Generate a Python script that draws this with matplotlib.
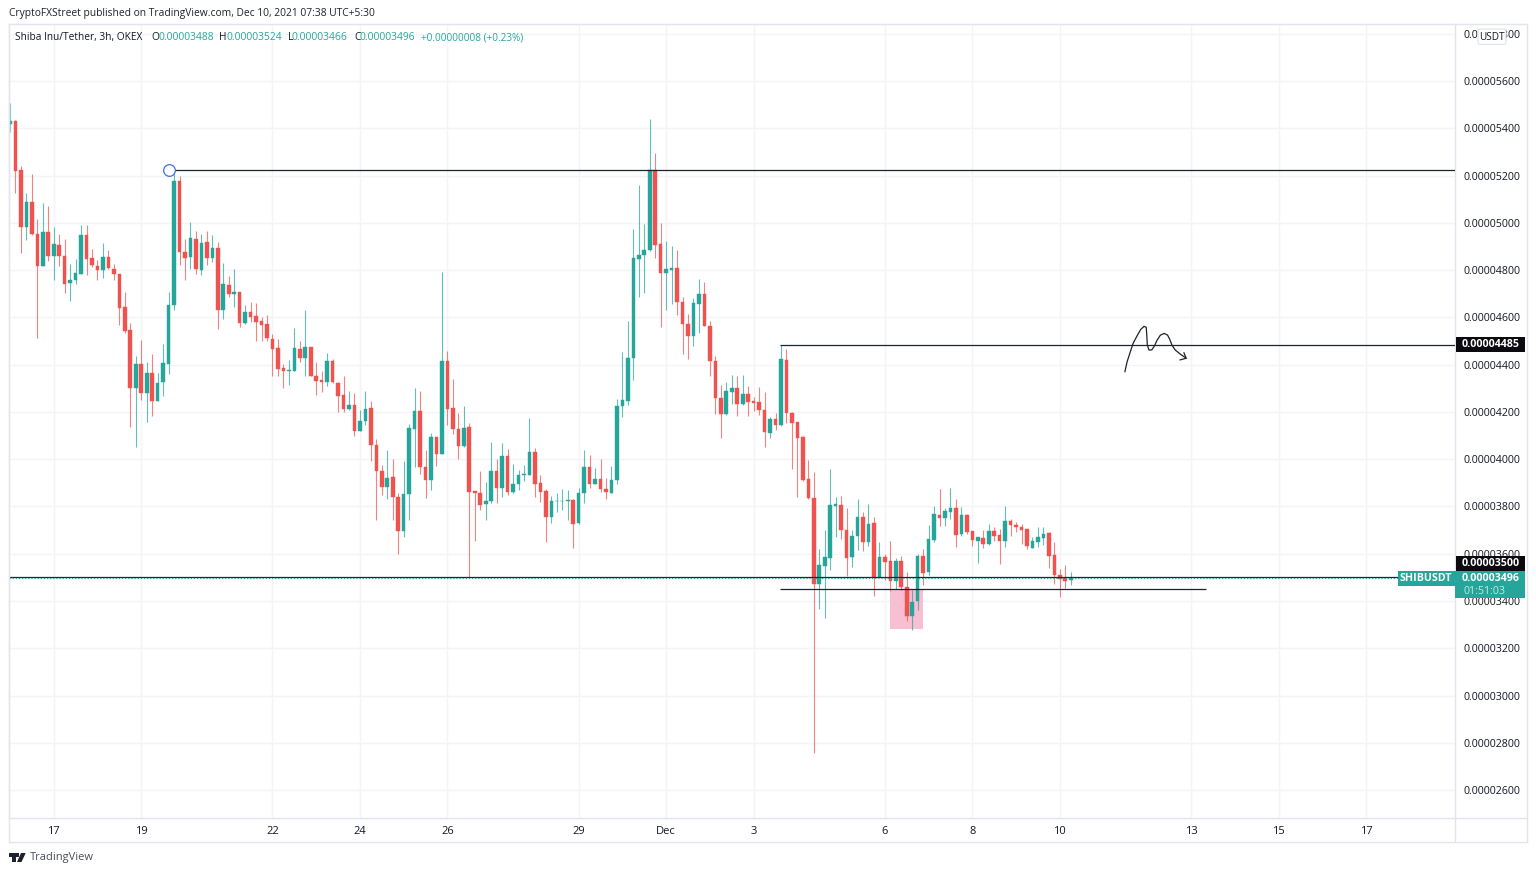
import matplotlib
matplotlib.use("Agg")
import matplotlib.pyplot as plt
from matplotlib.patches import Rectangle, Polygon, FancyBboxPatch
from matplotlib.lines import Line2D

# Prices in units of 1e-8 USDT
opens = [5416,5430,5224,4982,5090,4954,4819,4962,4858,4907,
4859,4744,4758,4785,4947,4850,4819,4799,4857,4806,
4783,4643,4548,4300,4402,4278,4365,4246,4327,4403,
4651,5178,4876,4855,4933,4802,4919,4852,4893,4629,
4738,4700,4707,4574,4624,4604,4584,4570,4510,4470,
4387,4372,4375,4466,4429,4473,4353,4334,4328,4414,
4324,4270,4211,4230,4121,4163,4215,4059,3949,3883,
3923,3841,3695,3854,4128,4203,3966,3914,4093,4024,
4414,4217,4127,4054,4138,3864,3858,3810,3825,3952,
3880,4015,3862,3893,3932,3934,4030,3899,3866,3756,
3821,3821,3824,3828,3730,3858,3966,3897,3916,3875,
3859,3910,4224,4248,4427,4848,4862,4884,5222,4910,
4787,4801,4810,4666,4572,4522,4658,4700,4565,4415,
4260,4192,4286,4301,4232,4275,4245,4241,4207,4110,
4170,4144,4420,4197,4156,4093,3918,3835,3473,3549,
3583,3804,3808,3701,3586,3677,3756,3648,3728,3502,
3587,3568,3483,3568,3461,3335,3399,3592,3521,3658,
3762,3751,3777,3793,3683,3762,3696,3654,3665,3641,
3696,3679,3654,3737,3722,3715,3703,3625,3649,3666,
3686,3593,3511,3497,3488]
highs = [5508,5435,5241,5128,5207,5016,5083,5071,4983,4954,
4933,4827,4847,4992,4992,4890,4843,4914,4886,4827,
4785,4707,4576,4438,4506,4409,4445,4365,4489,4707,
5223,5200,4933,5004,4966,4954,4966,4950,4919,4830,
4773,4804,4709,4652,4665,4659,4601,4610,4529,4507,
4403,4420,4555,4500,4631,4475,4411,4373,4451,4424,
4327,4351,4287,4279,4208,4287,4244,4086,3976,4039,
4000,3856,3993,4149,4301,4289,4039,4110,4095,4791,
4458,4338,4194,4227,4152,3866,3952,3903,4073,4000,
4069,4042,3980,3955,3976,4173,4046,3934,3873,3845,
3856,3873,3868,3830,3877,4039,4018,3962,4000,3920,
3970,4253,4453,4584,4973,5160,4994,5438,5294,5000,
4925,4903,4886,4686,4615,4681,4763,4749,4586,4435,
4315,4325,4355,4352,4358,4308,4263,4306,4286,4177,
4194,4485,4466,4199,4158,4099,3996,3945,3620,3701,
3959,3839,3846,3792,3699,3832,3776,3810,3756,3649,
3600,3652,3582,3589,3524,3448,3600,3621,3723,3804,
3873,3794,3876,3830,3796,3769,3698,3671,3699,3727,
3713,3706,3800,3745,3734,3727,3705,3670,3715,3713,
3691,3648,3535,3551,3524]
lows = [5386,5126,4872,4928,4949,4513,4817,4840,4759,4819,
4703,4668,4740,4783,4778,4811,4757,4768,4805,4759,
4567,4533,4136,4053,4250,4157,4182,4244,4267,4362,
4633,4820,4759,4806,4785,4778,4820,4833,4552,4593,
4685,4645,4560,4572,4582,4501,4501,4501,4352,4352,
4301,4314,4373,4411,4352,4350,4272,4284,4311,4321,
4201,4201,4208,4100,4118,4146,3994,3744,3849,3831,
3741,3600,3669,3744,3965,3937,3837,3870,3973,4022,
4144,4107,4000,4052,3501,3652,3783,3744,3813,3813,
3842,3849,3859,3868,3907,3932,3839,3817,3649,3732,
3775,3786,3744,3623,3727,3813,3876,3896,3863,3832,
3858,3893,4179,4230,4337,4684,4701,4882,4853,4558,
4629,4658,4610,4446,4422,4480,4534,4562,4352,4193,
4089,4186,4235,4182,4229,4182,4203,4186,4051,4091,
4124,4142,4155,3959,3842,3906,3832,2757,3368,3330,
3530,3669,3662,3507,3542,3616,3613,3631,3423,3500,
3490,3441,3451,3448,3314,3279,3364,3466,3508,3649,
3717,3717,3748,3628,3677,3684,3631,3561,3624,3639,
3654,3556,3628,3676,3692,3642,3618,3624,3628,3639,
3539,3472,3416,3454,3466]
closes = [5430,5221,4982,5090,4951,4819,4962,4858,4910,4858,
4741,4759,4786,4947,4845,4821,4799,4857,4807,4782,
4638,4544,4300,4402,4278,4365,4247,4324,4405,4652,
5178,4875,4851,4935,4805,4916,4852,4893,4629,4740,
4697,4707,4577,4621,4601,4582,4569,4513,4465,4383,
4372,4377,4470,4428,4473,4352,4332,4328,4414,4325,
4269,4213,4230,4120,4162,4213,4058,3951,3883,3921,
3841,3695,3852,4132,4203,3965,3914,4093,4024,4414,
4214,4128,4054,4132,3861,3858,3807,3825,3949,3877,
4015,3863,3894,3935,3937,4030,3897,3863,3756,3823,
3825,3824,3828,3727,3858,3969,3893,3917,3873,3861,
3913,4225,4249,4427,4849,4863,4886,5222,4907,4787,
4805,4810,4663,4570,4522,4659,4700,4565,4414,4260,
4193,4287,4301,4232,4275,4242,4239,4206,4114,4170,
4145,4424,4194,4155,4091,3913,3834,3473,3554,3585,
3806,3811,3700,3583,3677,3756,3648,3725,3502,3587,
3563,3483,3568,3461,3335,3397,3592,3520,3662,3766,
3751,3779,3793,3680,3762,3694,3658,3669,3641,3696,
3677,3654,3737,3720,3713,3700,3631,3652,3669,3684,
3589,3508,3494,3485,3496]

price_ticks = [5800,5600,5400,5200,5000,4800,4600,4400,4200,4000,3800,3600,3400,3200,3000,2800,2600]
day_ticks = [8,24,48,64,80,104,120,136,160,176,192,216,232,248]
day_labels = ["17","19","22","24","26","29","Dec","3","6","8","10","13","15","17"]

# Drawn annotations (bar index, price)
pen_x = [203.9,204.3,204.9,205.4,206.2,206.8,207.4,207.8,207.9,208.0,208.3,208.8,209.3,209.8,210.4,211.1,211.7,212.1,212.5,213.1,214.0,215.1]
pen_y = [4370,4412,4455,4490,4525,4549,4562,4558,4525,4483,4462,4462,4479,4504,4525,4532,4525,4507,4483,4462,4445,4427]
pen_head_x = [214.0,215.1,214.7]
pen_head_y = [4420,4427,4450]
level_high = 5222
level_mid = 4485
level_last_tag = 3500
level_low = 3451
last_price = 3496
zone_x = [160.9,167.0]
zone_y = [3281,3451]

UP, DOWN = "#26a69a", "#ef5350"
GRID, BORDER, INK = "#f3f4f8", "#e3e5ec", "#131722"
FONT = "Open Sans"
W, H = 1536, 873

def fx(p): return p / W
def fy(p): return 1 - p / H

fig = plt.figure(figsize=(W / 100, H / 100), dpi=100, facecolor="white")
ax = fig.add_axes([fx(9), fy(818), fx(1455) - fx(9), fy(24) - fy(818)])
ax.set_xlim(-0.183, 264.27)
ax.set_ylim(2482, 5841)
ax.set_facecolor("white")
for s in ax.spines.values():
    s.set_color(BORDER)
    s.set_linewidth(1)
ax.set_axisbelow(True)
ax.grid(True, color=GRID, linewidth=1)
ax.yaxis.tick_right()
ax.set_yticks(price_ticks, [f"0.{v:08d}" for v in price_ticks], fontname=FONT, fontsize=7.7, color=INK)
ax.set_xticks(day_ticks, day_labels, fontname=FONT, fontsize=8, color=INK)
ax.tick_params(axis="y", length=0, pad=6.2)
ax.tick_params(axis="x", length=0, pad=6)

ax.axhspan(zone_y[0], zone_y[1], xmin=(zone_x[0] + 0.183) / 264.453, xmax=(zone_x[1] + 0.183) / 264.453,
           facecolor="#f8bbd0", edgecolor="none", alpha=0.95, zorder=1)

for i, (o, h, l, c) in enumerate(zip(opens, highs, lows, closes)):
    col = UP if c >= o else DOWN
    ax.vlines(i, l, h, color=col, linewidth=0.8, alpha=0.72, zorder=2)
    ax.bar(i, abs(c - o), bottom=min(o, c), width=0.66, color=col, edgecolor=col, linewidth=0.3, zorder=3)

# Horizontal levels
ax.hlines(level_high, 29.08, 264.27, color="#1e222d", linewidth=0.9, zorder=4)
ax.hlines(level_mid, 140.8, 264.27, color="#1e222d", linewidth=0.9, zorder=4)
ax.hlines(level_low, 140.8, 218.7, color="#1e222d", linewidth=0.9, zorder=4)
ax.hlines(level_last_tag, -0.183, 264.27, color="#1e222d", linewidth=0.9, zorder=4)
ax.hlines(last_price, -0.183, 254, color=UP, linewidth=0.9, linestyles=(0, (1, 1.5)), zorder=5)
ax.plot([29.08], [level_high], marker="o", ms=8.4, mfc="white", mec="#3f6fe0", mew=0.9, zorder=6)
ax.plot(pen_x, pen_y, color="#1e222d", linewidth=0.9, zorder=6)
ax.plot(pen_head_x, pen_head_y, color="#1e222d", linewidth=0.9, zorder=6)

def px_rect(x0, y0, x1, y1, color, z=5):
    fig.add_artist(Rectangle((fx(x0), fy(y1)), fx(x1 - x0), (y1 - y0) / H,
                             transform=fig.transFigure, facecolor=color, edgecolor="none", zorder=z))

def px_text(x, y, s, color=INK, size=7.7, ha="left", weight="normal", family=FONT):
    fig.text(fx(x), fy(y), s, color=color, fontsize=size, ha=ha, va="center",
             fontweight=weight, fontname=family, zorder=7)

# Outer frame of the time and price scales
fig.add_artist(Line2D([fx(9), fx(9)], [fy(24), fy(842)], color=BORDER, lw=1, zorder=2))
fig.add_artist(Line2D([fx(9), fx(1527)], [fy(842), fy(842)], color=BORDER, lw=1, zorder=2))
fig.add_artist(Line2D([fx(1527), fx(1527)], [fy(24), fy(842)], color=BORDER, lw=1, zorder=2))
fig.add_artist(Line2D([fx(1455), fx(1527)], [fy(24), fy(24)], color=BORDER, lw=1, zorder=2))
fig.add_artist(Line2D([fx(1455), fx(1455)], [fy(818), fy(842)], color=BORDER, lw=1, zorder=2))
fig.add_artist(Line2D([fx(1455), fx(1527)], [fy(818), fy(818)], color=BORDER, lw=1, zorder=2))

# Price tags
px_rect(1456, 337, 1525, 352, "#0b0b0f")
px_text(1491, 344.5, "0.00004485", "white", 7.7, "center", "bold")
px_rect(1456, 556, 1525, 570.5, "#0b0b0f")
px_text(1491, 563.5, "0.00003500", "white", 7.7, "center", "bold")
px_rect(1398, 571, 1455, 586, UP)
px_text(1426, 578.5, "SHIBUSDT", "white", 7.7, "center", "bold")
px_rect(1455, 571, 1525, 598, UP)
px_text(1491, 578.5, "0.00003496", "white", 7.7, "center", "bold")
px_text(1485, 591, "01:51:03", "#c6e8e4", 7.7, "center")

# USDT badge
fig.add_artist(FancyBboxPatch((fx(1478), fy(44.5)), fx(28), 15.5 / H,
                              boxstyle="round,pad=0,rounding_size=0.002", transform=fig.transFigure,
                              facecolor="white", edgecolor="#e0e3eb", lw=0.8, zorder=5))
px_text(1492, 37, "USDT", INK, 7.2, "center")

# Header texts
px_text(9, 13.5, "CryptoFXStreet published on TradingView.com, Dec 10, 2021 07:38 UTC+5:30", "#1e222d", 7.37)
px_text(15, 37.5, "Shiba Inu/Tether, 3h, OKEX", INK, 7.3)
for x, s in [(151.7, "O"), (219, "H"), (287.7, "L"), (354, "C")]:
    px_text(x, 37.5, s, INK, 7.3)
for x, s in [(158.3, "0.00003488"), (226.7, "0.00003524"), (292, "0.00003466"), (360, "0.00003496")]:
    px_text(x, 37.5, s, UP, 7.4)
px_text(421, 37.5, "+0.00000008 (+0.23%)", UP, 7.2)

# TradingView mark
LOGO = "#1e222d"
fig.add_artist(Polygon([(fx(8.5), fy(853)), (fx(15.5), fy(853)), (fx(15.5), fy(862)), (fx(12), fy(862)),
                        (fx(12), fy(856.5)), (fx(8.5), fy(856.5))], transform=fig.transFigure,
                       facecolor=LOGO, edgecolor="none", zorder=6))
fig.add_artist(Polygon([(fx(21), fy(853)), (fx(25.7), fy(853)), (fx(21.5), fy(862)), (fx(17), fy(862))],
                       transform=fig.transFigure, facecolor=LOGO, edgecolor="none", zorder=6))
fig.add_artist(Rectangle((fx(16.2), fy(856.5)), fx(3), 3.2 / H, transform=fig.transFigure,
                         facecolor=LOGO, edgecolor="none", zorder=6))
px_text(30, 857.5, "TradingView", "#4a4e59", 8.0)

fig.savefig("out.png", dpi=100)
